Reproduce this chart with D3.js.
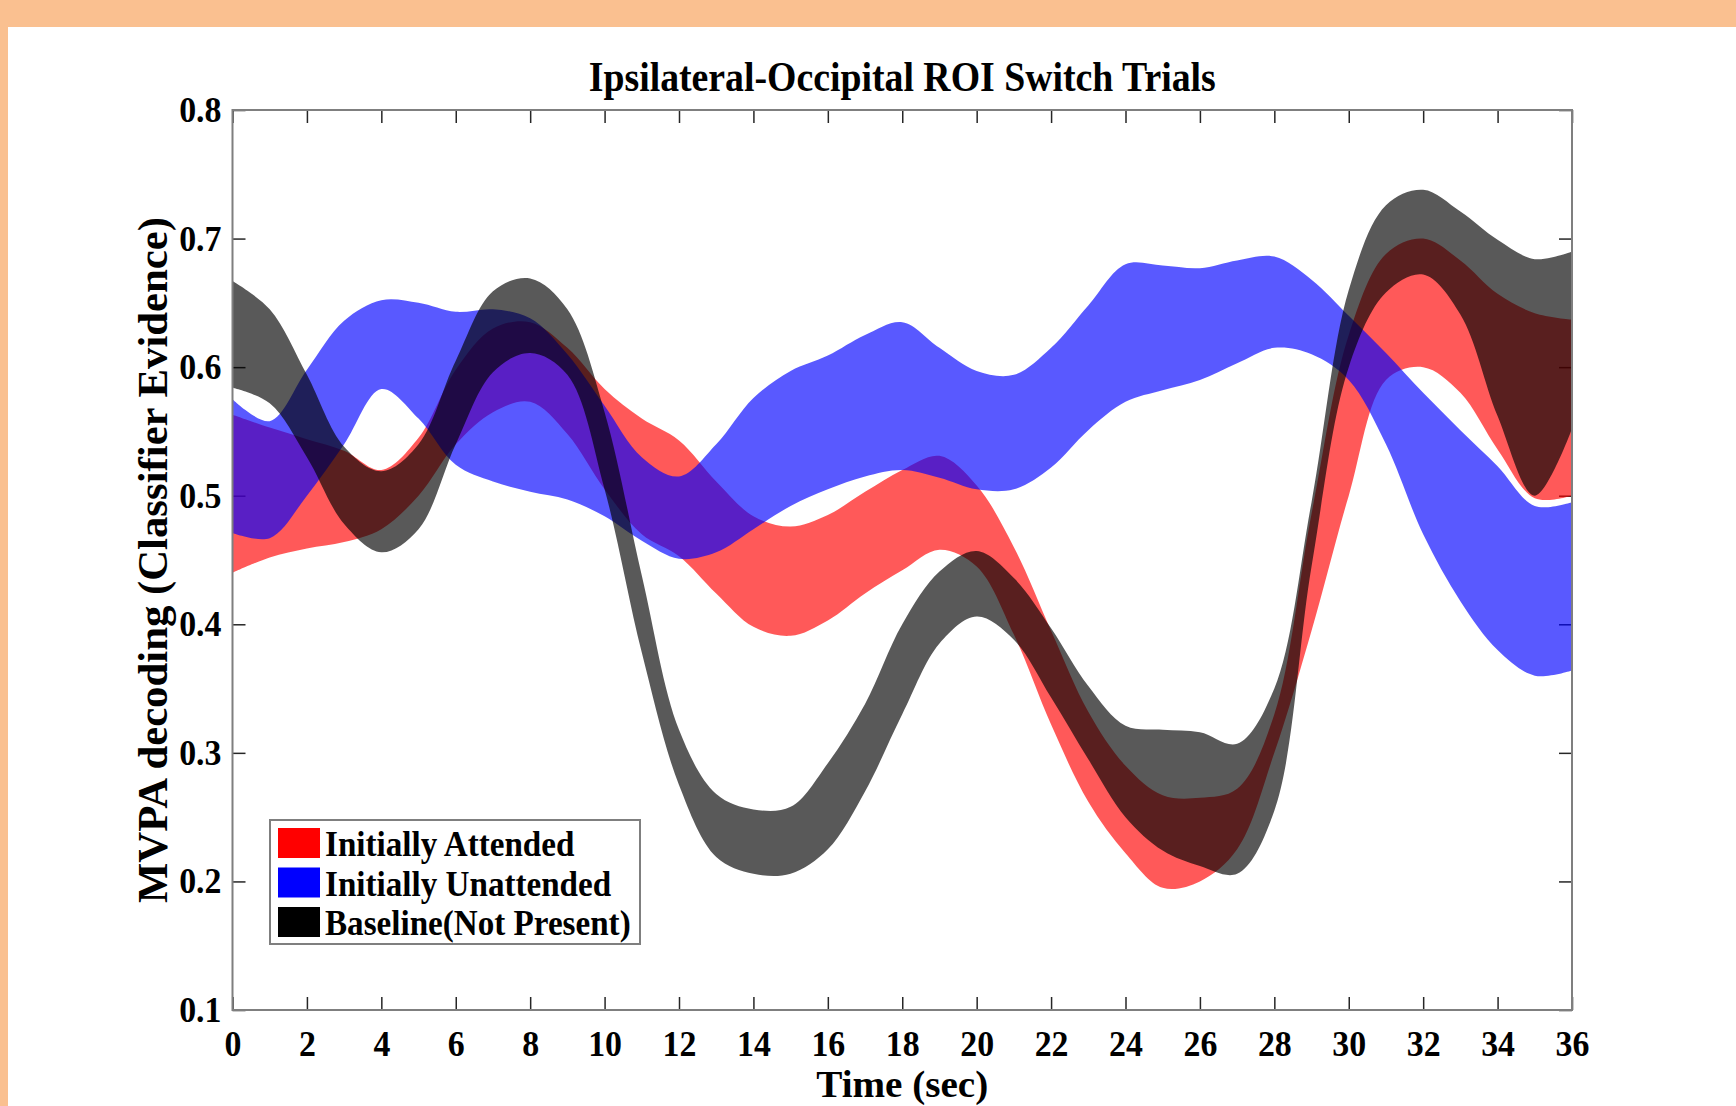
<!DOCTYPE html>
<html>
<head>
	<meta charset="utf-8">
	<script src="https://d3js.org/d3.v7.min.js"></script>
	<style>
		html, body { margin: 0; padding: 0; background: #fac090; }
		svg text { font-family: "Liberation Serif", serif; font-weight: bold; fill: #000; }
	</style>
</head>
<body>
	<svg></svg>
	<script>
		// time axis (sec)
		var time = d3.range(0, 37, 1);
		var xTicks = d3.range(0, 37, 2);
		var yTicks = [0.1, 0.2, 0.3, 0.4, 0.5, 0.6, 0.7, 0.8];

		// Initially Attended (red) lower / upper bounds
		var redLower = [0.440, 0.452, 0.459, 0.464, 0.474, 0.500, 0.540, 0.565, 0.573, 0.548,
			0.505, 0.470, 0.453, 0.424, 0.398, 0.391, 0.403, 0.424, 0.442, 0.458,
			0.445, 0.392, 0.322, 0.262, 0.222, 0.195, 0.200, 0.225, 0.300, 0.395,
			0.500, 0.590, 0.600, 0.580, 0.536, 0.498, 0.500];
		var redUpper = [0.563, 0.553, 0.544, 0.535, 0.520, 0.545, 0.598, 0.630, 0.635, 0.615,
			0.583, 0.560, 0.543, 0.511, 0.484, 0.476, 0.485, 0.503, 0.520, 0.531,
			0.508, 0.460, 0.395, 0.332, 0.290, 0.267, 0.265, 0.272, 0.330, 0.486,
			0.625, 0.688, 0.700, 0.683, 0.657, 0.642, 0.637];

		// Initially Unattended (blue)
		var blueLower = [0.471, 0.467, 0.500, 0.540, 0.583, 0.560, 0.524, 0.511, 0.503, 0.497,
			0.484, 0.465, 0.451, 0.456, 0.474, 0.492, 0.505, 0.515, 0.520, 0.514,
			0.505, 0.505, 0.522, 0.551, 0.573, 0.582, 0.590, 0.603, 0.615, 0.610,
			0.590, 0.540, 0.470, 0.418, 0.380, 0.360, 0.364];
		var blueUpper = [0.575, 0.558, 0.598, 0.636, 0.652, 0.650, 0.643, 0.645, 0.638, 0.610,
			0.570, 0.530, 0.515, 0.540, 0.576, 0.597, 0.609, 0.625, 0.635, 0.615,
			0.597, 0.594, 0.615, 0.648, 0.680, 0.679, 0.677, 0.683, 0.686, 0.668,
			0.640, 0.611, 0.580, 0.551, 0.523, 0.492, 0.495];

		// Baseline (Not Present) (black)
		var blackLower = [0.584, 0.572, 0.530, 0.478, 0.456, 0.474, 0.540, 0.596, 0.611, 0.594,
			0.505, 0.378, 0.275, 0.219, 0.206, 0.206, 0.225, 0.270, 0.330, 0.385,
			0.406, 0.388, 0.343, 0.295, 0.250, 0.224, 0.212, 0.206, 0.255, 0.445,
			0.600, 0.658, 0.672, 0.641, 0.562, 0.500, 0.552];
		var blackUpper = [0.667, 0.645, 0.594, 0.538, 0.519, 0.540, 0.605, 0.659, 0.669, 0.645,
			0.565, 0.438, 0.318, 0.268, 0.256, 0.258, 0.292, 0.338, 0.400, 0.441,
			0.457, 0.436, 0.397, 0.352, 0.321, 0.318, 0.316, 0.307, 0.350, 0.495,
			0.660, 0.726, 0.738, 0.721, 0.699, 0.684, 0.690];

		var seriesNames = ["Initially Attended", "Initially Unattended", "Baseline(Not Present)"];
		var seriesColors = ["#ff0000", "#0000ff", "#000000"];

		var width = 1736;
		var height = 1106;
		var plotLeft = 232.5, plotRight = 1572, plotTop = 110, plotBottom = 1010;

		var svg = d3.select("svg")
			.attr("width", width)
			.attr("height", height)
			.style("display", "block");

		// white panel over the orange page
		svg.append("rect")
			.attr("x", 8).attr("y", 27)
			.attr("width", width - 8).attr("height", height - 27)
			.attr("fill", "#fff");

		var x = d3.scaleLinear().domain([0, 36]).range([plotLeft, plotRight]);
		var y = d3.scaleLinear().domain([0.1, 0.8]).range([plotBottom, plotTop]);

		// squeeze a text sideways so it looks like the tall, narrow original face
		function condense(sel, k) {
			sel.each(function() {
				var w = this.getComputedTextLength();
				d3.select(this)
					.attr("textLength", w * k)
					.attr("lengthAdjust", "spacingAndGlyphs");
			});
		}

		// inward ticks on all four sides
		svg.append("g")
			.attr("transform", "translate(0," + plotBottom + ")")
			.call(d3.axisBottom(x).tickValues(xTicks).tickSize(-13).tickPadding(20).tickFormat(d3.format("d")));
		svg.append("g")
			.attr("transform", "translate(" + plotLeft + ",0)")
			.call(d3.axisLeft(y).tickValues(yTicks).tickSize(-13).tickPadding(11).tickFormat(d3.format(".1f")));
		svg.append("g")
			.attr("transform", "translate(0," + plotTop + ")")
			.call(d3.axisTop(x).tickValues(xTicks).tickSize(-13).tickFormat(""));
		svg.append("g")
			.attr("transform", "translate(" + plotRight + ",0)")
			.call(d3.axisRight(y).tickValues(yTicks).tickSize(-13).tickFormat(""));

		svg.selectAll(".domain").remove();
		svg.selectAll(".tick line").attr("stroke", "#262626").attr("stroke-width", 1.5);
		svg.selectAll(".tick text")
			.attr("font-family", "Liberation Serif")
			.attr("font-weight", "bold")
			.attr("font-size", 36)
			.attr("fill", "#1a1a1a")
			.call(condense, 0.94);

		// bands: red, then blue, then black on top
		var bands = [
			[redLower, redUpper],
			[blueLower, blueUpper],
			[blackLower, blackUpper]
		];

		var area = d3.area()
			.x(function(d) { return x(d.t); })
			.y0(function(d) { return y(d.lo); })
			.y1(function(d) { return y(d.hi); })
			.curve(d3.curveCatmullRom.alpha(0.5));

		bands.forEach(function(b, i) {
			var pts = time.map(function(t, k) {
				return { t: t, lo: b[0][k], hi: b[1][k] };
			});
			svg.append("path")
				.datum(pts)
				.attr("d", area)
				.attr("fill", seriesColors[i])
				.attr("fill-opacity", 0.65);
		});

		// axes box
		svg.append("rect")
			.attr("x", plotLeft).attr("y", plotTop)
			.attr("width", plotRight - plotLeft).attr("height", plotBottom - plotTop)
			.attr("fill", "none")
			.attr("stroke", "#7f7f7f")
			.attr("stroke-width", 2);

		// title and axis labels
		svg.append("text")
			.attr("x", (plotLeft + plotRight) / 2).attr("y", 91)
			.attr("text-anchor", "middle")
			.attr("font-size", 42)
			.attr("textLength", 627)
			.attr("lengthAdjust", "spacingAndGlyphs")
			.text("Ipsilateral-Occipital ROI Switch Trials");

		svg.append("text")
			.attr("x", (plotLeft + plotRight) / 2).attr("y", 1097)
			.attr("text-anchor", "middle")
			.attr("font-size", 37)
			.attr("textLength", 172)
			.attr("lengthAdjust", "spacingAndGlyphs")
			.text("Time (sec)");

		svg.append("text")
			.attr("transform", "translate(167," + ((plotTop + plotBottom) / 2) + ") rotate(-90)")
			.attr("text-anchor", "middle")
			.attr("font-size", 43)
			.attr("textLength", 686)
			.attr("lengthAdjust", "spacingAndGlyphs")
			.text("MVPA decoding (Classifier Evidence)");

		// legend
		var legend = svg.append("g").attr("transform", "translate(270,820)");
		legend.append("rect")
			.attr("width", 370).attr("height", 124)
			.attr("fill", "#fff")
			.attr("stroke", "#7f7f7f")
			.attr("stroke-width", 2);

		seriesNames.forEach(function(name, i) {
			legend.append("rect")
				.attr("x", 8).attr("y", 8 + i * 39.5)
				.attr("width", 42).attr("height", 30)
				.attr("fill", seriesColors[i]);
			legend.append("text")
				.attr("x", 55).attr("y", 36 + i * 39.5)
				.attr("font-size", 36)
				.text(name)
				.call(condense, 0.92);
		});
	</script>
</body>
</html>
